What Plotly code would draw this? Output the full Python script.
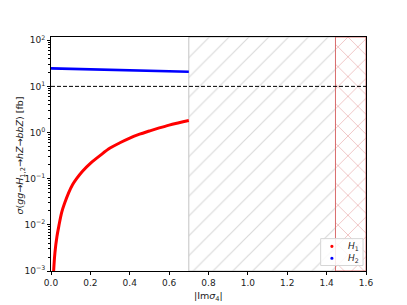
import plotly.graph_objects as go

# ---- data ----
h1_x = [0.0134, 0.02, 0.03, 0.04, 0.055, 0.07, 0.09, 0.11, 0.13, 0.16, 0.2, 0.25,
        0.3, 0.35, 0.4, 0.45, 0.5, 0.55, 0.6, 0.65, 0.7]
h1_y = [0.001, 0.0025, 0.0055, 0.0095, 0.019, 0.03, 0.05, 0.075, 0.1, 0.145, 0.215, 0.32,
        0.46, 0.6, 0.76, 0.92, 1.08, 1.26, 1.45, 1.63, 1.82]

h2_x = [0.0, 0.224, 0.476, 0.7]
h2_y = [24.5, 23.3, 22.1, 20.7]

limit_x = [0.0, 1.6]
limit_y = [10.0, 10.0]

# excluded regions (x bounds) and y span of the axes
grey_region = [0.7, 1.445]
red_region = [1.445, 1.6]
y_span = [1e-3, 10 ** 2.07]

x_ticks = [0.0, 0.2, 0.4, 0.6, 0.8, 1.0, 1.2, 1.4, 1.6]
y_ticks = [1e-3, 1e-2, 1e-1, 1e0, 1e1, 1e2]
y_ticktext = ["10<sup>\u22123</sup>", "10<sup>\u22122</sup>", "10<sup>\u22121</sup>",
              "10<sup>0</sup>", "10<sup>1</sup>", "10<sup>2</sup>"]

x_title = "|Im<i>σ</i><sub>4</sub>|"
y_title = "<i>σ</i>(<i>gg</i>→<i>H</i><sub>1,2</sub>→<i>hZ</i>→<i>bbZ</i>) [fb]"

legend_labels = ["<i>H</i><sub>1</sub>", "<i>H</i><sub>2</sub>"]
legend_colors = ["red", "blue"]

FONT = "DejaVu Sans"

# plot-area geometry in pixels
W, H = 407, 305
ML, MR, MT, MB = 50.5, 40.5, 36.5, 33.5
PW, PH = W - ML - MR, H - MT - MB


def px2paper(x, y):
    return (x - ML) / PW, (H - MB - y) / PH


fig = go.Figure()

# grey excluded band: open outline (top, left edge, bottom) so only the left edge shows
fig.add_trace(go.Scatter(
    x=[grey_region[1], grey_region[0], grey_region[0], grey_region[1]],
    y=[y_span[1], y_span[1], y_span[0], y_span[0]],
    mode="lines", fill="toself",
    line=dict(color="#c4c4c4", width=1),
    fillcolor="rgba(0,0,0,0)",
    fillpattern=dict(shape="/", fgcolor="#b4b4b4", bgcolor="rgba(0,0,0,0)",
                     size=14, solidity=0.085),
    showlegend=False, hoverinfo="skip"))

fig.add_trace(go.Scatter(
    x=[red_region[0], red_region[1], red_region[1], red_region[0], red_region[0]],
    y=[y_span[0], y_span[0], y_span[1], y_span[1], y_span[0]],
    mode="lines", fill="toself",
    line=dict(color="#d86c6c", width=1),
    fillcolor="rgba(0,0,0,0)",
    fillpattern=dict(shape="x", fgcolor="#d46464", bgcolor="rgba(0,0,0,0)",
                     size=14, solidity=0.1),
    showlegend=False, hoverinfo="skip"))

fig.add_trace(go.Scatter(
    x=limit_x, y=limit_y, mode="lines",
    line=dict(color="black", width=1, dash="4px,2px"),
    showlegend=False, hoverinfo="skip"))

fig.add_trace(go.Scatter(
    x=h1_x, y=h1_y, mode="lines", line=dict(color="red", width=3, shape="spline"),
    showlegend=False))
fig.add_trace(go.Scatter(
    x=h2_x, y=h2_y, mode="lines", line=dict(color="blue", width=2.6),
    showlegend=False))

# ---- compact legend (lower right), drawn in paper coordinates ----
shapes = []
annotations = []
bx0, by0 = px2paper(321, 266)
bx1, by1 = px2paper(363.5, 239)
shapes.append(dict(type="rect", xref="paper", yref="paper", x0=bx0, y0=by0, x1=bx1, y1=by1,
                   fillcolor="rgba(255,255,255,0.85)", line=dict(color="#d6d6d6", width=1)))
for i, (lab, col) in enumerate(zip(legend_labels, legend_colors)):
    ypx = 246.7 + 12 * i
    dx, dy = px2paper(332.3, ypx)
    shapes.append(dict(type="circle", xref="paper", yref="paper",
                       xsizemode="pixel", ysizemode="pixel", xanchor=dx, yanchor=dy,
                       x0=-1.6, x1=1.6, y0=-1.6, y1=1.6,
                       fillcolor=col, line=dict(width=0)))
    tx, ty = px2paper(346, ypx)
    annotations.append(dict(xref="paper", yref="paper", x=tx, y=ty, xanchor="left",
                            yanchor="middle", text=lab, showarrow=False,
                            font=dict(size=9, color="#222222")))

# axis titles placed as annotations
ax_, ay_ = px2paper(208.5, 297)
annotations.append(dict(xref="paper", yref="paper", x=ax_, y=ay_, xanchor="center",
                        yanchor="middle", text=x_title, showarrow=False,
                        font=dict(size=9.5, color="#222222")))
bx_, by_ = px2paper(20, 156)
annotations.append(dict(xref="paper", yref="paper", x=bx_, y=by_, xanchor="center",
                        yanchor="middle", text=y_title, showarrow=False, textangle=-90,
                        font=dict(size=9.5, color="#222222")))

fig.update_layout(
    width=W, height=H,
    margin=dict(l=ML, r=MR, t=MT, b=MB),
    paper_bgcolor="white", plot_bgcolor="white",
    font=dict(family=FONT, size=9, color="#222222"),
    showlegend=False,
    shapes=shapes, annotations=annotations,
)

fig.update_xaxes(
    range=[0, 1.6], tickvals=x_ticks, ticktext=[f"{v:.1f}" for v in x_ticks],
    showline=True, linecolor="black", linewidth=1, mirror=True, automargin=False,
    ticks="outside", ticklen=3, tickcolor="black", showgrid=False, zeroline=False,
)
fig.update_yaxes(
    type="log", range=[-3, 2.07], tickvals=y_ticks, ticktext=y_ticktext,
    showline=True, linecolor="black", linewidth=1, mirror=True, automargin=False,
    ticks="outside", ticklen=3, tickcolor="black", showgrid=False, zeroline=False,
    minor=dict(ticks="outside", ticklen=1.8, tickcolor="black", dtick="D1", showgrid=False),
)

fig.write_html(
    "out.html",
    config={"displayModeBar": False},
    post_script="document.body.style.margin='0';document.body.style.overflow='hidden';",
)
